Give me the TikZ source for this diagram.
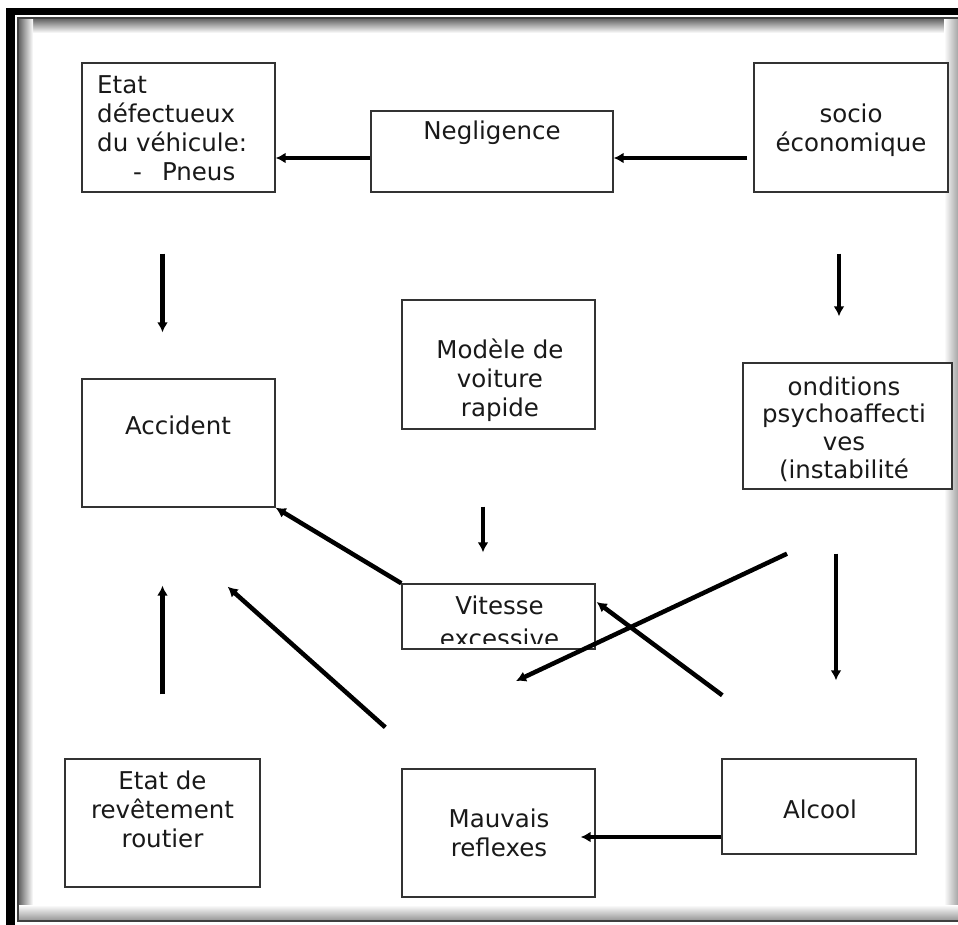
\documentclass[tikz,border=0pt]{standalone}
\usepackage{fontspec}
\setmainfont{DejaVu Sans}
\usetikzlibrary{arrows.meta,calc}
\begin{document}
\begin{tikzpicture}[x=1pt,y=-1pt,
  box/.style={draw=black!80, line width=1.4pt, fill=white, inner sep=0pt, rectangle},
  txt/.style={inner sep=0pt, anchor=base, text=black!90, font=\fontsize{24.5}{29}\selectfont},
  arr/.style={line width=4.5pt, -{Latex[length=10pt,width=11pt]}}]

\useasboundingbox (0,0) rectangle (958,925);
\fill[white] (0,0) rectangle (958,925);

% frame with inner shadow
\shade[top color=black!60, bottom color=white] (19,19) rectangle (958,33);
\shade[left color=black!60, right color=white] (19,19) rectangle (33,920);
\shade[left color=white, right color=black!35] (944,19) rectangle (958,920);
\shade[top color=white, bottom color=black!40] (19,905) rectangle (958,920);
\draw[black!75, line width=2pt] (958,18) -- (18,18) -- (18,921) -- (958,921);
\fill[black] (6,8) rectangle (958,15);
\fill[black] (6,8) rectangle (15,925);

% boxes
\node[box, minimum width=193pt, minimum height=129pt] (etat) at (178.5,127.5) {};
\node[box, minimum width=242pt, minimum height=81pt]  (neg)  at (492,151.5) {};
\node[box, minimum width=194pt, minimum height=129pt] (soc)  at (851,127.5) {};
\node[box, minimum width=193pt, minimum height=129pt] (mod)  at (498.5,364.5) {};
\node[box, minimum width=193pt, minimum height=128pt] (acc)  at (178.5,443) {};
\node[box, minimum width=209pt, minimum height=126pt] (ond)  at (847.5,426) {};
\node[box, minimum width=193pt, minimum height=65pt]  (vit)  at (498.5,616.5) {};
\node[box, minimum width=195pt, minimum height=128pt] (rev)  at (162.5,823) {};
\node[box, minimum width=193pt, minimum height=128pt] (mau)  at (498.5,833) {};
\node[box, minimum width=194pt, minimum height=95pt]  (alc)  at (819,806.5) {};

% texts
\node[txt, anchor=base west] (etat-t) at (97,94)
  {\begin{tabular}[t]{@{}l@{}}Etat\\défectueux\\du véhicule:\\\hspace*{36pt}-\hspace*{20pt}Pneus\end{tabular}};
\node[txt] (neg-t) at (492,140) {Negligence};
\node[txt] (soc-t) at (851,123) {\begin{tabular}[t]{@{}c@{}}socio\\économique\end{tabular}};
\node[txt] (mod-t) at (500,358) {\begin{tabular}[t]{@{}c@{}}Modèle de\\voiture\\rapide\end{tabular}};
\node[txt] (acc-t) at (178,434) {Accident};
\node[txt, font=\fontsize{24.5}{27.7}\selectfont] (ond-t) at (844,395)
  {\begin{tabular}[t]{@{}c@{}}onditions\\psychoaffecti\\ves\\(instabilité\end{tabular}};
\begin{scope}
  \clip (402,584) rectangle (595,643);
  \node[txt, font=\fontsize{24.5}{33}\selectfont] (vit-t) at (499.5,614)
    {\begin{tabular}[t]{@{}c@{}}Vitesse\\excessive\end{tabular}};
\end{scope}
\node[txt] (rev-t) at (162.5,789) {\begin{tabular}[t]{@{}c@{}}Etat de\\revêtement\\routier\end{tabular}};
\node[txt] (mau-t) at (499,827) {\begin{tabular}[t]{@{}c@{}}Mauvais\\reflexes\end{tabular}};
\node[txt] (alc-t) at (820,818) {Alcool};

% free end
\coordinate (c7) at (516,681);

% connectors
\draw[arr] ($(soc.west)+(-6,30.5)$) -- ($(neg.east)+(0,6.5)$);
\draw[arr] ($(neg.west)+(0,6.5)$) -- ($(etat.east)+(0,30.5)$);
\draw[arr] ($(etat.south)+(-16,61)$) -- ($(acc.north)+(-16,-46)$);
\draw[arr] ($(soc.south)+(-12,61)$) -- ($(ond.north)+(-8.5,-46)$);
\draw[arr] ($(mod.south)+(-15.5,77)$) -- ($(vit.north)+(-15.5,-31)$);
\draw[arr] (vit.north west) -- (acc.south east);
\draw[arr] ($(ond.south)+(-60.5,64)$) -- (c7);
\draw[arr] ($(ond.south)+(-11.5,64)$) -- ($(alc.north)+(17,-78)$);
\draw[arr] ($(alc.north west)+(1,-63)$) -- ($(vit.east)+(1,-14.5)$);
\draw[arr] ($(mau.north west)+(-16,-41)$) -- ($(acc.south east)+(-48,79)$);
\draw[arr] ($(rev.north)+(0,-64)$) -- ($(acc.south)+(-16,78)$);
\draw[arr] ($(alc.west)+(0,30.5)$) -- ($(mau.east)+(-15,4)$);
\end{tikzpicture}
\end{document}
